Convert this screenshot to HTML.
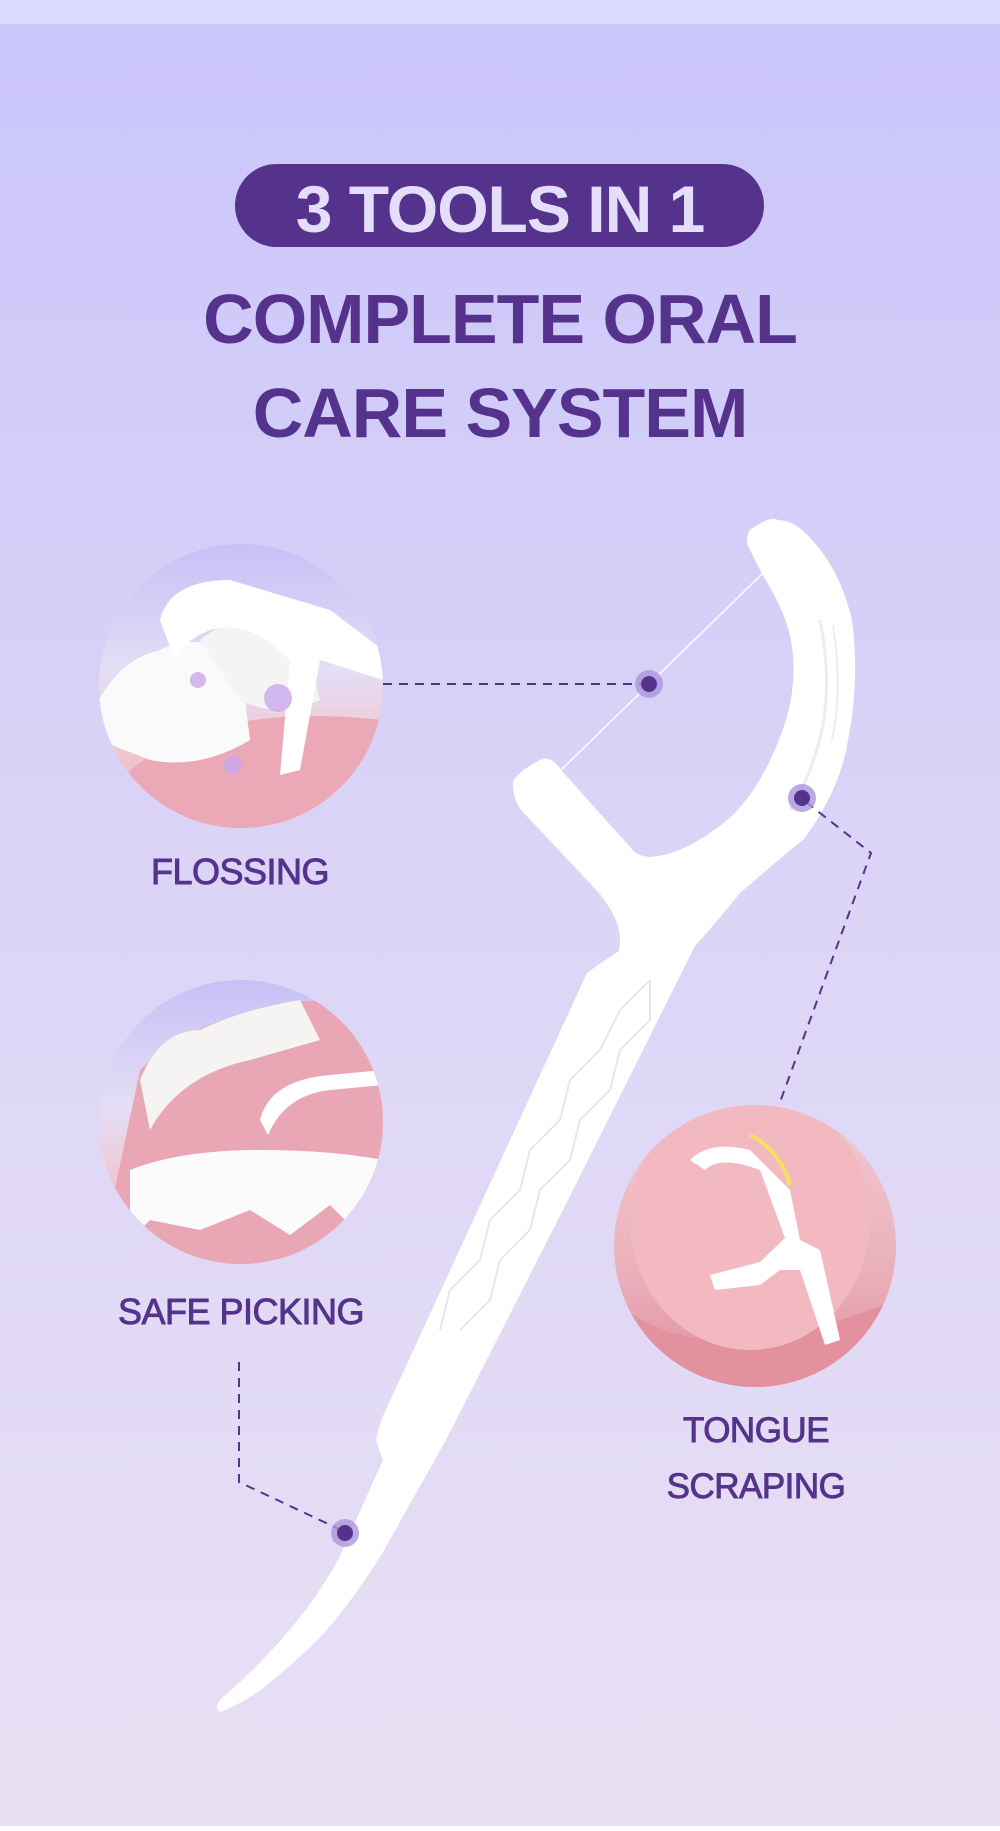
<!DOCTYPE html>
<html><head><meta charset="utf-8"><style>
html,body{margin:0;padding:0}
body{width:1000px;height:1826px;overflow:hidden;font-family:"Liberation Sans",sans-serif}
</style></head><body>
<svg width="1000" height="1826" viewBox="0 0 1000 1826" xmlns="http://www.w3.org/2000/svg">
<defs>
<linearGradient id="bg" x1="0" y1="0" x2="0" y2="1">
<stop offset="0" stop-color="#cac5fb"/><stop offset="0.5" stop-color="#dcd5f6"/><stop offset="1" stop-color="#e8e0f4"/>
</linearGradient>
<linearGradient id="c1" x1="0" y1="0" x2="0" y2="1">
<stop offset="0" stop-color="#c7c0f6"/><stop offset="0.45" stop-color="#e4def6"/><stop offset="0.7" stop-color="#f0c8d2"/><stop offset="1" stop-color="#eab4c2"/>
</linearGradient>
<linearGradient id="c3" x1="0" y1="0" x2="0" y2="1">
<stop offset="0" stop-color="#f3c9cf"/><stop offset="0.6" stop-color="#eab0bb"/><stop offset="1" stop-color="#e08c9c"/>
</linearGradient>
<clipPath id="k1"><circle cx="241" cy="686" r="142"/></clipPath>
<clipPath id="k2"><circle cx="241" cy="1122" r="142"/></clipPath>
<clipPath id="k3"><circle cx="755" cy="1246" r="141"/></clipPath>
</defs>
<rect width="1000" height="1826" fill="url(#bg)"/>
<rect width="1000" height="24" fill="#dcdaff"/>

<rect x="235" y="164" width="529" height="83" rx="41.5" fill="#55338c"/>
<text x="500" y="232" text-anchor="middle" font-size="66" font-weight="bold" fill="#e4defb" letter-spacing="-1">3 TOOLS IN 1</text>
<text x="500" y="343" text-anchor="middle" font-size="70" font-weight="bold" fill="#55338c" letter-spacing="-1">COMPLETE ORAL</text>
<text x="500" y="437" text-anchor="middle" font-size="70" font-weight="bold" fill="#55338c" letter-spacing="-1">CARE SYSTEM</text>

<!-- flossing circle -->
<g clip-path="url(#k1)">
<rect x="99" y="544" width="284" height="284" fill="url(#c1)"/>
<path d="M120 780 Q200 700 383 720 L383 828 L99 828Z" fill="#eba9b8"/>
<path d="M99 700 Q120 660 160 650 Q200 630 240 660 L250 740 Q200 770 150 760 L99 740Z" fill="#fafafa"/>
<path d="M200 640 Q250 600 300 620 L320 700 Q280 720 240 700Z" fill="#f4f4f4"/>
<path d="M160 620 Q170 580 230 580 L330 610 L383 650 L383 680 L320 660 L300 770 L280 775 L290 660 Q230 600 180 650 L175 660Z" fill="#ffffff"/>
<circle cx="278" cy="698" r="14" fill="#c9a6ec" opacity="0.8"/>
<circle cx="198" cy="680" r="8" fill="#c9a6ec" opacity="0.8"/>
<circle cx="233" cy="765" r="9" fill="#c9a6ec" opacity="0.8"/>
</g>
<g fill="#55338c" stroke="#55338c" stroke-width="0.9">
<text x="240" y="884" text-anchor="middle" font-size="36" letter-spacing="-0.5">FLOSSING</text>
<text x="241" y="1324" text-anchor="middle" font-size="36" letter-spacing="-0.5">SAFE PICKING</text>
<text x="756" y="1442" text-anchor="middle" font-size="35" letter-spacing="-0.5">TONGUE</text>
<text x="756" y="1498" text-anchor="middle" font-size="35" letter-spacing="-0.5">SCRAPING</text>
</g>

<!-- safe picking circle -->
<g clip-path="url(#k2)">
<rect x="99" y="980" width="284" height="284" fill="url(#c1)"/>
<path d="M140 1070 Q200 1010 320 1000 L383 1020 L383 1264 L99 1264Z" fill="#e9a7b6"/>
<path d="M140 1080 Q160 1030 200 1030 Q240 1010 300 1000 L320 1040 L250 1060 Q180 1075 150 1130Z" fill="#f6f3f3"/>
<path d="M130 1170 Q180 1150 260 1150 Q330 1150 383 1160 L383 1220 L350 1225 L330 1205 L290 1235 L250 1210 L200 1230 L150 1220 L130 1240Z" fill="#fbfbfb"/>
<path d="M260 1120 Q270 1080 330 1075 L383 1070 L383 1085 L330 1090 Q285 1095 268 1135Z" fill="#fff"/>
</g>

<!-- tongue circle -->
<g clip-path="url(#k3)">
<rect x="614" y="1105" width="282" height="282" fill="url(#c3)"/>
<path d="M614 1300 Q700 1380 896 1300 L896 1387 L614 1387Z" fill="#e3909f"/>
<ellipse cx="750" cy="1220" rx="120" ry="130" fill="#f2b9c0"/>
<path d="M690 1160 Q710 1140 750 1150 L790 1190 L800 1240 L820 1250 L840 1340 L825 1345 L800 1270 L780 1270 L760 1285 L715 1290 L710 1275 L760 1262 L785 1238 L760 1170 Q720 1155 705 1170Z" fill="#ffffff"/>
<path d="M750 1135 Q780 1150 790 1185" stroke="#f4e060" stroke-width="4" fill="none"/>
</g>

<!-- pick -->
<path d="M778 520 Q770 515 750 530 Q744 540 750 550 L762 574 Q785 610 791 640 Q798 680 786 720 Q760 800 714 830 Q680 855 650 857 Q636 856 631 848 L561 770 Q552 756 542 759 Q520 770 513 781 Q512 800 523 812 L599 893 Q625 925 619 951 Q596 966 587 973 L383 1416 Q378 1430 376 1440 Q380 1452 383 1460 L338 1560 Q300 1630 220 1700 Q214 1708 220 1712 Q250 1700 268 1684 Q310 1650 332 1624 Q360 1590 383 1552 L446 1440 L568 1200 L695 946 Q720 918 740 893 Q790 850 804 839 Q840 790 848 740 Q860 680 852 620 Q840 570 812 540 Q795 520 778 520Z" fill="#ffffff"/>
<path d="M820 620 Q832 680 822 730 Q810 780 790 810" stroke="#ececf2" stroke-width="3" fill="none"/>
<path d="M833 625 Q843 690 832 740" stroke="#ececf2" stroke-width="2" fill="none"/>
<g stroke="#e6e6ec" stroke-width="2" fill="none">
<path d="M650 980 L620 1010 L600 1050 L570 1080 L560 1120 L530 1150 L520 1190 L490 1220 L480 1260 L450 1290 L440 1330"/>
<path d="M650 980 L650 1020 L620 1050 L610 1090 L580 1120 L570 1160 L540 1190 L530 1230 L500 1260 L490 1300 L460 1330"/>
</g>
<line x1="762" y1="574" x2="561" y2="770" stroke="#ffffff" stroke-width="1.5"/>

<!-- connectors -->
<g stroke="#55338c" stroke-width="2" stroke-dasharray="9,7" fill="none">
<line x1="383" y1="684" x2="645" y2="684"/>
<polyline points="806,802 871,853 779,1105"/>
<polyline points="239,1362 239,1482 341,1530"/>
</g>
<circle cx="649" cy="684" r="14" fill="#a996dc" opacity="0.8"/>
<circle cx="649" cy="684" r="8" fill="#55338c"/>
<circle cx="802" cy="798" r="14" fill="#a996dc" opacity="0.8"/>
<circle cx="802" cy="798" r="8" fill="#55338c"/>
<circle cx="345" cy="1533" r="14" fill="#a996dc" opacity="0.8"/>
<circle cx="345" cy="1533" r="8" fill="#55338c"/>
</svg>
</body></html>
